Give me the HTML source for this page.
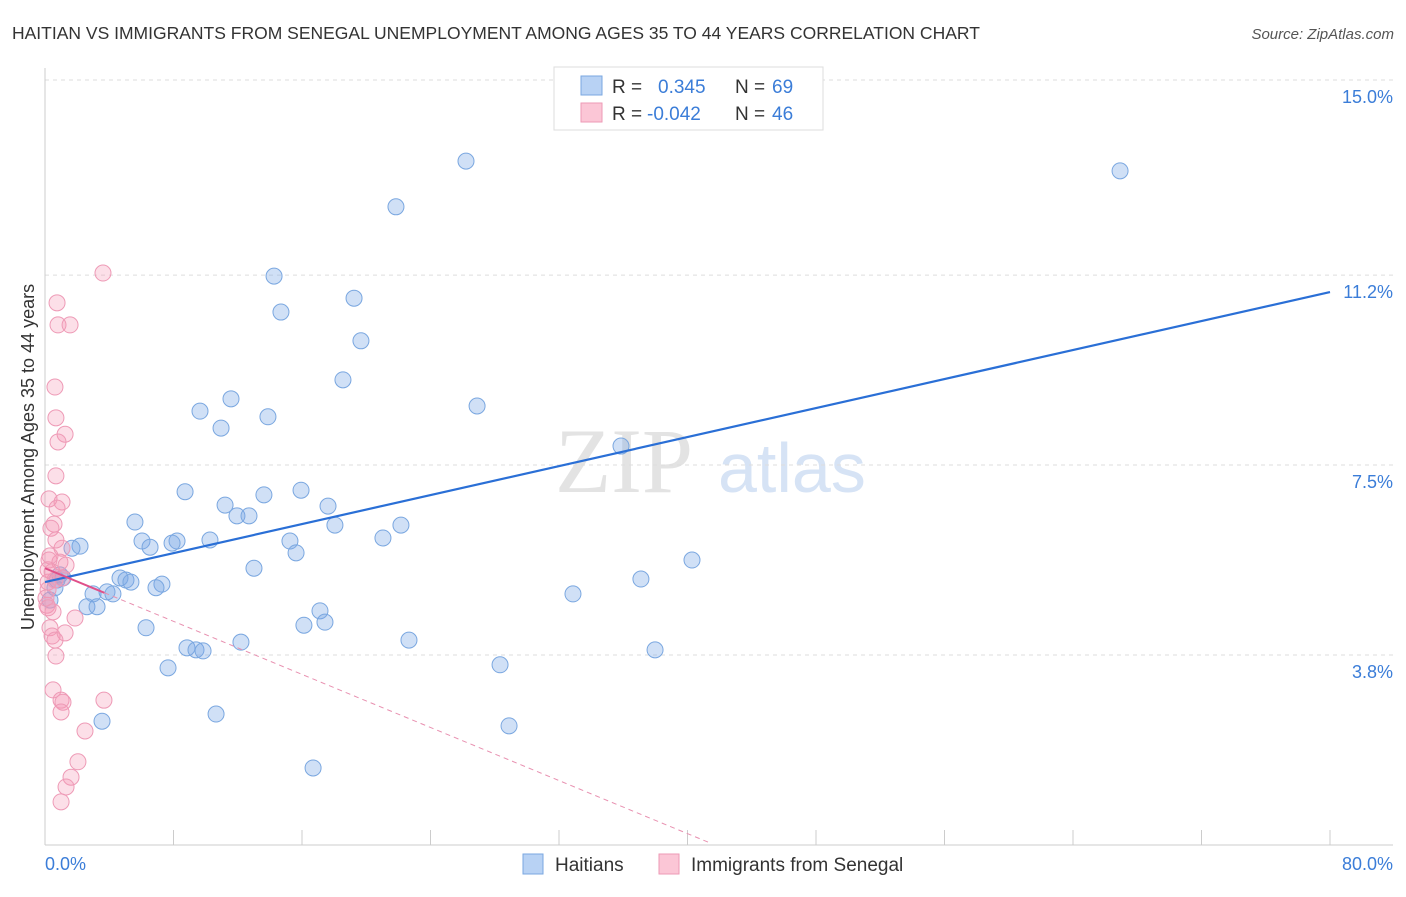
<!DOCTYPE html>
<html><head><meta charset="utf-8"><style>
body{margin:0;background:#fff;font-family:"Liberation Sans",sans-serif;}
svg text{font-family:"Liberation Sans",sans-serif;}
</style></head><body>
<svg id="chart" width="1406" height="892">
<text x="12" y="39" font-size="17.5" fill="#333">HAITIAN VS IMMIGRANTS FROM SENEGAL UNEMPLOYMENT AMONG AGES 35 TO 44 YEARS CORRELATION CHART</text>
<text x="1394" y="39" font-size="15" fill="#555" font-style="italic" text-anchor="end">Source: ZipAtlas.com</text>
<g>
<text x="555" y="492" font-size="92" fill="#e3e3e3" font-family="Liberation Serif,serif" style="font-family:'Liberation Serif',serif">ZIP</text>
<text x="718" y="492" font-size="70" fill="#d6e3f5">atlas</text>
</g>
<g id="grid"></g>
<g id="axes"></g>
<g id="marks"></g>
<g>
<rect x="554" y="67" width="269" height="63" fill="#fff" stroke="#ddd"/>
<rect x="581" y="76" width="21" height="19" fill="#b8d2f4" stroke="#7aa7e0"/>
<rect x="581" y="103" width="21" height="19" fill="#fbc6d6" stroke="#ee9ab6"/>
<text x="612" y="93" font-size="19" fill="#333">R =</text>
<text x="658" y="93" font-size="19" fill="#3b7dd8">0.345</text>
<text x="735" y="93" font-size="19" fill="#333">N =</text>
<text x="772" y="93" font-size="19" fill="#3b7dd8">69</text>
<text x="612" y="120" font-size="19" fill="#333">R =</text>
<text x="647" y="120" font-size="19" fill="#3b7dd8">-0.042</text>
<text x="735" y="120" font-size="19" fill="#333">N =</text>
<text x="772" y="120" font-size="19" fill="#3b7dd8">46</text>
</g>
<g>
<rect x="523" y="854" width="20" height="20" fill="#b8d2f4" stroke="#7aa7e0"/>
<text x="555" y="871" font-size="19" fill="#333">Haitians</text>
<rect x="659" y="854" width="20" height="20" fill="#fbc6d6" stroke="#ee9ab6"/>
<text x="691" y="871" font-size="19" fill="#333">Immigrants from Senegal</text>
</g>
<text transform="translate(34,457) rotate(-90)" font-size="18" fill="#333" text-anchor="middle">Unemployment Among Ages 35 to 44 years</text>
</svg>
<script>
const yTicks=[15.0,11.2,7.5,3.8];
const yTickLabels=["15.0%","11.2%","7.5%","3.8%"];
const xTickLabels=["0.0%","80.0%"];
const haitiX=[26.21,66.93,21.85,14.26,19.24,14.69,19.67,18.55,26.90,9.65,11.58,13.88,10.96,35.86,8.72,15.94,13.63,11.21,17.62,11.95,12.70,5.60,18.05,22.16,6.04,8.22,7.91,10.27,21.04,15.25,6.54,2.18,1.68,15.63,40.28,13.01,37.10,4.67,5.04,5.35,7.28,6.91,0.75,1.12,0.62,3.86,4.23,2.99,32.87,2.61,3.24,17.12,16.12,17.43,6.29,12.20,22.66,8.84,9.40,9.84,37.98,7.66,28.33,10.65,3.55,28.89,16.69,0.31,0.93];
const haitiY=[13.42,13.23,12.53,11.18,10.75,10.48,9.92,9.16,8.65,8.55,8.79,8.44,8.22,7.87,6.98,7.01,6.92,6.72,6.70,6.51,6.51,6.39,6.33,6.33,6.02,6.02,5.98,6.04,6.08,6.02,5.90,5.92,5.88,5.79,5.65,5.49,5.28,5.30,5.26,5.22,5.18,5.11,5.26,5.30,5.11,5.03,4.99,4.99,4.99,4.74,4.74,4.66,4.38,4.44,4.33,4.05,4.09,3.94,3.90,3.88,3.90,3.55,3.61,2.65,2.51,2.42,1.60,4.87,5.36];
const senX=[3.61,0.75,0.81,1.56,0.62,0.68,1.25,0.81,0.68,1.06,0.25,0.75,0.56,0.37,1.06,0.25,0.93,0.44,0.19,0.62,1.06,1.31,0.19,0.12,0.19,0.50,1.87,0.31,0.44,1.25,0.62,0.68,0.50,1.00,3.67,1.12,1.00,2.49,2.05,1.62,1.31,1.00,0.19,0.31,0.68,0.06];
const senY=[11.24,10.66,10.23,10.23,9.02,8.42,8.10,7.95,7.29,6.78,6.84,6.66,6.35,6.27,5.88,5.65,5.61,5.42,5.22,5.26,5.30,5.55,5.07,4.77,4.72,4.64,4.52,4.33,4.17,4.23,4.09,3.78,3.12,2.92,2.92,2.88,2.69,2.32,1.72,1.42,1.23,0.94,5.46,5.73,6.04,4.91];
const haitiTrend=[5.22,10.87];
const senTrend=[5.49,0.14];
const senSolidEnd=3.7, senDashEnd=41.4;

const X=v=>45+v*(1285/80);
const Y=v=>80+(15-v)*51.34;
const NS="http://www.w3.org/2000/svg";
function mk(tag,parent,attrs){const e=document.createElementNS(NS,tag);for(const k in attrs)e.setAttribute(k,attrs[k]);document.getElementById(parent).appendChild(e);return e;}
yTicks.forEach((t,i)=>{
  const l=mk('line','grid',{x1:45,x2:1393,y1:Y(t),y2:Y(t),stroke:'#ddd','stroke-dasharray':'4,4'});
  
  
  const tx=mk('text','axes',{x:1393,y:Y(t)+23,'font-size':18,fill:'#3b7dd8','text-anchor':'end'});
  tx.textContent=yTickLabels[i];
  
  
});
const ax=mk('line','axes',{x1:45,x2:1393,y1:845,y2:845,stroke:'#ccc'});


const ay=mk('line','axes',{x1:45,x2:45,y1:68,y2:845,stroke:'#ccc'});


for(let i=1;i<=10;i++){
  const t=mk('line','axes',{x1:X(i*8),x2:X(i*8),y1:830,y2:845,stroke:'#ccc'});
  
  
}
const xl0=mk('text','axes',{x:45,y:870,'font-size':18,fill:'#3b7dd8'});
xl0.textContent=xTickLabels[0];


const xl1=mk('text','axes',{x:1393,y:870,'font-size':18,fill:'#3b7dd8','text-anchor':'end'});
xl1.textContent=xTickLabels[1];



haitiX.forEach((x,i)=>{
  const c=mk('circle','marks',{cx:X(x),cy:Y(haitiY[i]),r:8,fill:'rgba(120,165,230,0.35)',stroke:'#7aa7e0','stroke-width':1});
  
  
});
senX.forEach((x,i)=>{
  const c=mk('circle','marks',{cx:X(x),cy:Y(senY[i]),r:8,fill:'rgba(245,150,180,0.3)',stroke:'#ee9ab6','stroke-width':1});
  
  
});
const sy=x=>senTrend[0]+(senTrend[1]-senTrend[0])*x/senDashEnd;
const hl=mk('line','marks',{x1:X(0),y1:Y(haitiTrend[0]),x2:X(80),y2:Y(haitiTrend[1]),stroke:'#2a6fd6','stroke-width':2.2});


const sl=mk('line','marks',{x1:X(0),y1:Y(senTrend[0]),x2:X(senSolidEnd),y2:Y(sy(senSolidEnd)),stroke:'#e0508a','stroke-width':2});


const sd=mk('line','marks',{x1:X(senSolidEnd),y1:Y(sy(senSolidEnd)),x2:X(senDashEnd),y2:Y(senTrend[1]),stroke:'#e890b0','stroke-width':1,'stroke-dasharray':'5,4'});


</script>
</body></html>
